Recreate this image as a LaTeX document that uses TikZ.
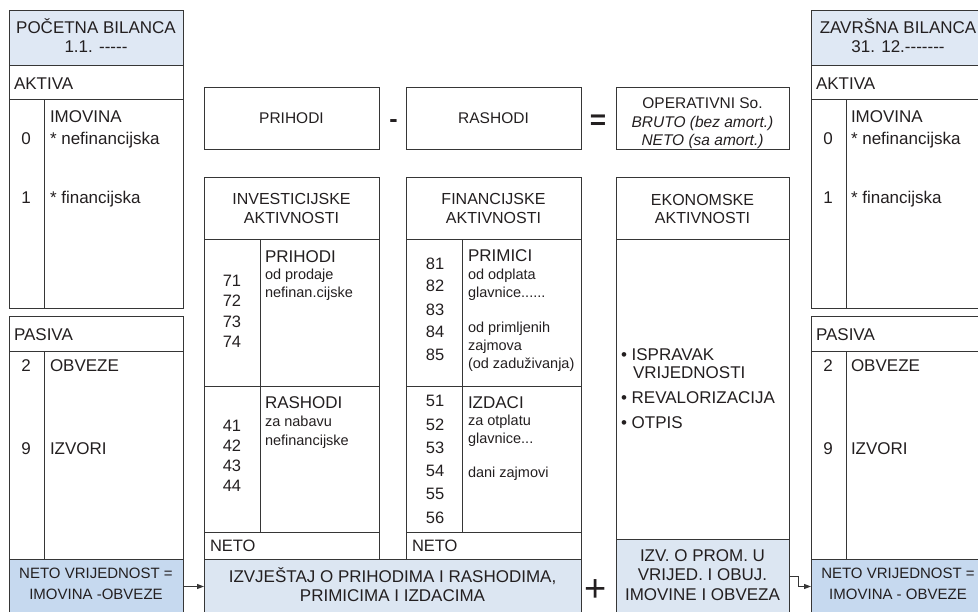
\documentclass[tikz,border=0pt]{standalone}
\usepackage{fontspec}
\setmainfont{Liberation Sans}[Ligatures=TeXOff]
\usetikzlibrary{arrows.meta}
\definecolor{ln}{HTML}{363636}
\definecolor{tx}{HTML}{231F20}
\definecolor{hdr}{HTML}{DFE8F4}
\definecolor{rep}{HTML}{DCE6F2}
\definecolor{net}{HTML}{C6D9EF}
\begin{document}
\begin{tikzpicture}[x=1pt,y=-1pt,
  box/.style={draw=ln, line width=1pt, anchor=north west, inner sep=0pt, outer sep=0pt},
  divl/.style={draw=ln, line width=1pt},
  tt/.style={inner sep=0pt, outer sep=0pt, text=tx},
  fA/.style={tt, font=\fontsize{17}{19}\selectfont},
  fB/.style={tt, font=\fontsize{16}{18}\selectfont},
  fC/.style={tt, font=\fontsize{15.5}{18}\selectfont},
  fD/.style={tt, font=\fontsize{14.5}{17}\selectfont},
  fN/.style={tt, font=\fontsize{16.5}{19}\selectfont},
  fE/.style={tt, font=\fontsize{15}{18}\selectfont},
  cb/.style={anchor=base},
  lb/.style={anchor=base west},
  arr/.style={draw=ln, line width=1pt, -{Triangle[length=7pt,width=5pt]}}
]
\useasboundingbox (0,0) rectangle (978,611);
\clip (0,0) rectangle (978,611);

% ---------------- left column: POCETNA BILANCA ----------------
\node[box,fill=hdr,minimum width=174pt,minimum height=55pt] (titleL) at (9,10) {};
\node[box,minimum width=174pt,minimum height=34pt] (aktL) at (9,65) {};
\node[box,minimum width=174pt,minimum height=209pt] (aktBL) at (9,99) {};
\draw[divl] (44,99) -- (44,308);
\node[box,minimum width=174pt,minimum height=35pt] (pasL) at (9,316) {};
\node[box,minimum width=174pt,minimum height=208pt] (pasBL) at (9,351) {};
\draw[divl] (44,351) -- (44,559);
\node[box,fill=net,minimum width=174pt,minimum height=55pt] (netoL) at (9,559) {};

\node[fA,cb] (tL1) at (96,33.6) {POČETNA BILANCA};
\node[fA,cb] (tL2) at (96,52) {1.1. -----};
\node[fA,lb] (akL) at (14,89.5) {AKTIVA};
\node[fA,lb] (imL) at (50,122.8) {IMOVINA};
\node[fA,cb] (n0L) at (26,144.4) {0};
\node[fA,lb] (nfL) at (50,144.4) {* nefinancijska};
\node[fA,cb] (n1L) at (26,203) {1};
\node[fA,lb] (fiL) at (50,203) {* financijska};
\node[fA,lb] (paL) at (14,340) {PASIVA};
\node[fA,cb] (n2L) at (26,371.6) {2};
\node[fA,lb] (obL) at (50,371.6) {OBVEZE};
\node[fA,cb] (n9L) at (26,454.8) {9};
\node[fA,lb] (izL) at (50,454.8) {IZVORI};
\node[fE,cb] (nvL1) at (96,578) {NETO VRIJEDNOST =};
\node[fE,cb] (nvL2) at (96,599.5) {IMOVINA -OBVEZE};

% ---------------- top row ----------------
\node[box,minimum width=175pt,minimum height=62pt] (prihodi) at (204,87) {};
\node[box,minimum width=175pt,minimum height=62pt] (rashodi) at (406,87) {};
\node[box,minimum width=173pt,minimum height=62pt] (oper) at (616,87) {};
\node[fC,cb] (tPri) at (291.5,123.5) {PRIHODI};
\node[fC,cb] (tRas) at (493.5,123.5) {RASHODI};
\node[fC,cb] (tOp1) at (702.5,108.8) {OPERATIVNI So.};
\node[fC,cb] (tOp2) at (702.5,127.2) {\itshape BRUTO (bez amort.)};
\node[fC,cb] (tOp3) at (702.5,145.5) {\itshape NETO (sa amort.)};
\node[tt,cb,font=\fontsize{25}{25}\selectfont\bfseries] (minus) at (393.5,127.5) {-};
\node[tt,cb,font=\fontsize{28}{28}\selectfont\bfseries] (equals) at (598,129.8) {=};

% ---------------- investicijske ----------------
\node[box,minimum width=175pt,minimum height=62pt] (invH) at (204,177) {};
\node[box,minimum width=175pt,minimum height=147pt] (invP) at (204,239) {};
\node[box,minimum width=175pt,minimum height=146pt] (invR) at (204,386) {};
\node[box,minimum width=175pt,minimum height=27pt] (invN) at (204,532) {};
\draw[divl] (260,239) -- (260,532);
\node[fB,cb] (tInv1) at (291.5,204.2) {INVESTICIJSKE};
\node[fB,cb] (tInv2) at (291.5,223.7) {AKTIVNOSTI};
\node[fA,lb] (tIP) at (265,262.3) {PRIHODI};
\node[fD,lb] (tIP1) at (265,279.3) {od prodaje};
\node[fD,lb] (tIP2) at (265,297.3) {nefinan.cijske};
\node[fN,cb] (n71) at (232,286) {71};
\node[fN,cb] (n72) at (232,306.8) {72};
\node[fN,cb] (n73) at (232,327.3) {73};
\node[fN,cb] (n74) at (232,347.8) {74};
\node[fA,lb] (tIR) at (265,408.6) {RASHODI};
\node[fD,lb] (tIR1) at (265,426.7) {za nabavu};
\node[fD,lb] (tIR2) at (265,445.7) {nefinancijske};
\node[fN,cb] (n41) at (232,431.2) {41};
\node[fN,cb] (n42) at (232,451.5) {42};
\node[fN,cb] (n43) at (232,471.8) {43};
\node[fN,cb] (n44) at (232,491.8) {44};
\node[fN,lb] (tIN) at (210,551) {NETO};

% ---------------- financijske ----------------
\node[box,minimum width=175pt,minimum height=62pt] (finH) at (406,177) {};
\node[box,minimum width=175pt,minimum height=147pt] (finP) at (406,239) {};
\node[box,minimum width=175pt,minimum height=146pt] (finR) at (406,386) {};
\node[box,minimum width=175pt,minimum height=27pt] (finN) at (406,532) {};
\draw[divl] (462,239) -- (462,532);
\node[fB,cb] (tFin1) at (493.5,204.2) {FINANCIJSKE};
\node[fB,cb] (tFin2) at (493.5,223.7) {AKTIVNOSTI};
\node[fA,lb] (tFP) at (468,261.9) {PRIMICI};
\node[fD,lb] (tFP1) at (468,279.3) {od odplata};
\node[fD,lb] (tFP2) at (468,297.3) {glavnice......};
\node[fD,lb] (tFP3) at (468,332.7) {od primljenih};
\node[fD,lb] (tFP4) at (468,350.3) {zajmova};
\node[fD,lb] (tFP5) at (468,368.3) {(od zaduživanja)};
\node[fN,cb] (n81) at (435,269.2) {81};
\node[fN,cb] (n82) at (435,291.7) {82};
\node[fN,cb] (n83) at (435,315) {83};
\node[fN,cb] (n84) at (435,337.7) {84};
\node[fN,cb] (n85) at (435,360.4) {85};
\node[fA,lb] (tFR) at (468,408.6) {IZDACI};
\node[fD,lb] (tFR1) at (468,425) {za otplatu};
\node[fD,lb] (tFR2) at (468,443.3) {glavnice...};
\node[fD,lb] (tFR3) at (468,477.3) {dani zajmovi};
\node[fN,cb] (n51) at (435,406.7) {51};
\node[fN,cb] (n52) at (435,430.7) {52};
\node[fN,cb] (n53) at (435,453.7) {53};
\node[fN,cb] (n54) at (435,476.4) {54};
\node[fN,cb] (n55) at (435,499.7) {55};
\node[fN,cb] (n56) at (435,523) {56};
\node[fN,lb] (tFN) at (412,551) {NETO};

% ---------------- report ----------------
\node[box,fill=rep,minimum width=377pt,minimum height=55pt] (report) at (204,559) {};
\node[fA,cb] (tRep1) at (392.5,582.8) {IZVJEŠTAJ O PRIHODIMA I RASHODIMA,};
\node[fA,cb] (tRep2) at (392.5,601.6) {PRIMICIMA I IZDACIMA};
\node[tt,cb,font=\fontsize{38}{38}\selectfont] (plus) at (596,601.4) {+};

% ---------------- ekonomske ----------------
\node[box,minimum width=173pt,minimum height=62pt] (ekoH) at (616,177) {};
\node[box,minimum width=173pt,minimum height=300pt] (ekoB) at (616,239) {};
\node[box,fill=rep,minimum width=173pt,minimum height=75pt] (izv) at (616,539) {};
\node[fB,cb] (tEk1) at (702.5,205.5) {EKONOMSKE};
\node[fB,cb] (tEk2) at (702.5,223.5) {AKTIVNOSTI};
\node[fA,lb] (b1) at (621,360) {\textbullet\ ISPRAVAK};
\node[fA,lb] (b1b) at (633,378.3) {VRIJEDNOSTI};
\node[fA,lb] (b2) at (621,403.6) {\textbullet\ REVALORIZACIJA};
\node[fA,lb] (b3) at (621,428.6) {\textbullet\ OTPIS};
\node[fA,cb] (tIz1) at (702.5,561) {IZV. O PROM. U};
\node[fA,cb] (tIz2) at (702.5,580.5) {VRIJED. I OBUJ.};
\node[fA,cb] (tIz3) at (702.5,600) {IMOVINE I OBVEZA};

% ---------------- right column: ZAVRSNA BILANCA ----------------
\node[box,fill=hdr,minimum width=174pt,minimum height=55pt] (titleR) at (811,10) {};
\node[box,minimum width=174pt,minimum height=34pt] (aktR) at (811,65) {};
\node[box,minimum width=174pt,minimum height=209pt] (aktBR) at (811,99) {};
\draw[divl] (846,99) -- (846,308);
\node[box,minimum width=174pt,minimum height=35pt] (pasR) at (811,316) {};
\node[box,minimum width=174pt,minimum height=208pt] (pasBR) at (811,351) {};
\draw[divl] (846,351) -- (846,559);
\node[box,fill=net,minimum width=174pt,minimum height=55pt] (netoR) at (811,559) {};

\node[fA,cb] (tR1) at (898,33.6) {ZAVRŠNA BILANCA};
\node[fA,cb] (tR2) at (898,52) {31. 12.-------};
\node[fA,lb] (akR) at (816,89.5) {AKTIVA};
\node[fA,lb] (imR) at (851,122.8) {IMOVINA};
\node[fA,cb] (n0R) at (828,144.4) {0};
\node[fA,lb] (nfR) at (851,144.4) {* nefinancijska};
\node[fA,cb] (n1R) at (828,203) {1};
\node[fA,lb] (fiR) at (851,203) {* financijska};
\node[fA,lb] (paR) at (816,340) {PASIVA};
\node[fA,cb] (n2R) at (828,371.6) {2};
\node[fA,lb] (obR) at (851,371.6) {OBVEZE};
\node[fA,cb] (n9R) at (828,454.8) {9};
\node[fA,lb] (izR) at (851,454.8) {IZVORI};
\node[fE,cb] (nvR1) at (898,578) {NETO VRIJEDNOST =};
\node[fE,cb] (nvR2) at (898,599.5) {IMOVINA - OBVEZE};

% ---------------- connectors ----------------
\draw[arr] (netoL.east) -- (report.west);
\draw[arr] (izv.east) -- ++(9,0) |- (netoR.west);
\end{tikzpicture}
\end{document}
